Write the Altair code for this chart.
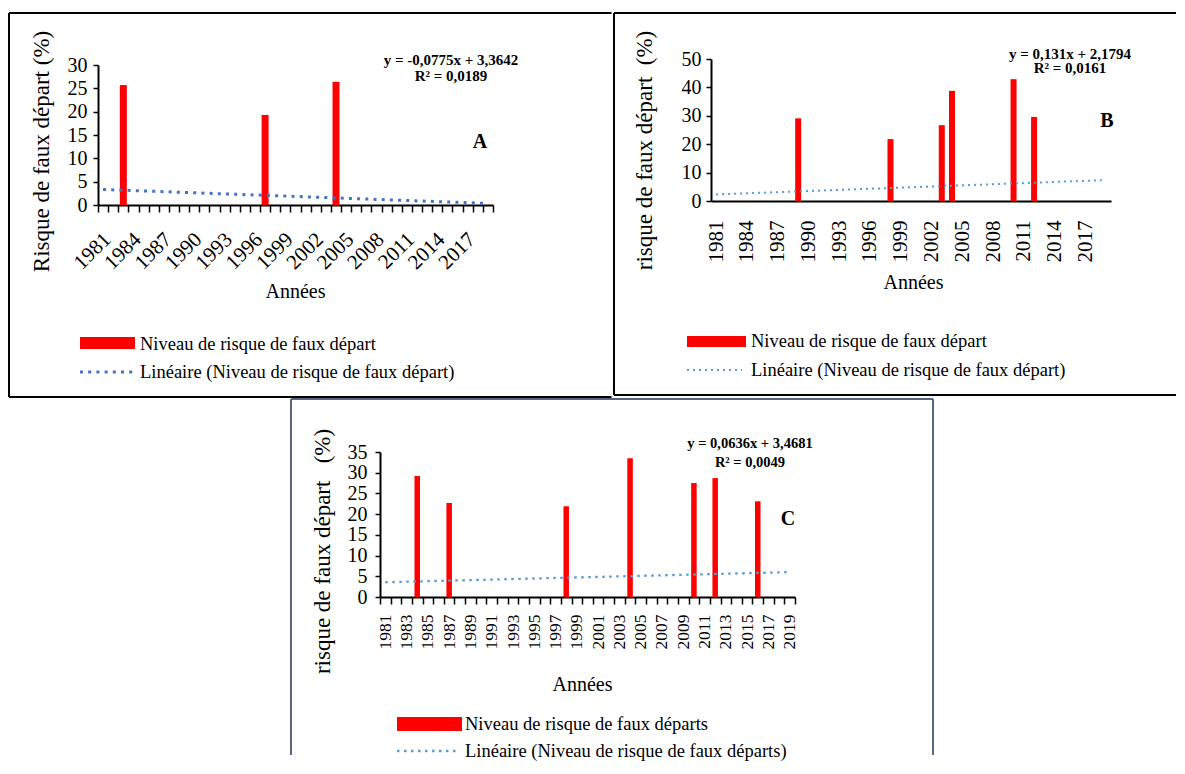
import json
import altair as alt
import pandas as pd

FONT = "Liberation Serif"

YEARS = [1981, 1982, 1983, 1984, 1985, 1986, 1987, 1988, 1989, 1990,
         1991, 1992, 1993, 1994, 1995, 1996, 1997, 1998, 1999, 2000,
         2001, 2002, 2003, 2004, 2005, 2006, 2007, 2008, 2009, 2010,
         2011, 2012, 2013, 2014, 2015, 2016, 2017, 2018, 2019]

A_YEARS = [1983, 1997, 2004]
A_VALUES = [25.7, 19.3, 26.4]
B_YEARS = [1989, 1998, 2003, 2004, 2010, 2012]
B_VALUES = [29.1, 21.8, 26.7, 38.8, 42.9, 29.6]
C_YEARS = [1984, 1987, 1998, 2004, 2010, 2012, 2016]
C_VALUES = [29.2, 22.7, 21.9, 33.5, 27.5, 28.7, 23.1]

A_TICK_LABELS = [1981, 1984, 1987, 1990, 1993, 1996, 1999, 2002, 2005, 2008, 2011, 2014, 2017]
B_TICK_LABELS = [1981, 1984, 1987, 1990, 1993, 1996, 1999, 2002, 2005, 2008, 2011, 2014, 2017]
C_TICK_LABELS = [1981, 1983, 1985, 1987, 1989, 1991, 1993, 1995, 1997, 1999,
                 2001, 2003, 2005, 2007, 2009, 2011, 2013, 2015, 2017, 2019]

A_Y_TICKS = [0, 5, 10, 15, 20, 25, 30]
B_Y_TICKS = [0, 10, 20, 30, 40, 50]
C_Y_TICKS = [0, 5, 10, 15, 20, 25, 30, 35]

A_EQ = ["y = -0,0775x + 3,3642", "R² = 0,0189"]
B_EQ = ["y = 0,131x + 2,1794", "R² = 0,0161"]
C_EQ = ["y = 0,0636x + 3,4681", "R² = 0,0049"]

ONE = pd.DataFrame({"k": [0]})
NOVIEW = alt.ViewBackground(stroke="transparent", strokeWidth=0, fill="transparent")


def full_table(years, values):
    lookup = dict(zip(years, values))
    return pd.DataFrame({"year": YEARS, "value": [lookup.get(y, 0.0) for y in YEARS]})


def hrule(x1, x2, y, color="black", width=2.0):
    return alt.Chart(ONE).mark_rule(color=color, strokeWidth=width).encode(
        x=alt.value(x1), x2=alt.value(x2), y=alt.value(y))


def vrule(x, y1, y2, color="black", width=2.0):
    return alt.Chart(ONE).mark_rule(color=color, strokeWidth=width).encode(
        x=alt.value(x), y=alt.value(y1), y2=alt.value(y2))


def dotted(x1, x2, y, color, dash, width):
    return alt.Chart(ONE).mark_rule(color=color, strokeWidth=width, strokeDash=dash).encode(
        x=alt.value(x1), x2=alt.value(x2), y=alt.value(y))


def label(x, y, s, size, weight="normal", align="left"):
    return alt.Chart(ONE).mark_text(font=FONT, fontSize=size, fontWeight=weight, align=align,
                                    baseline="middle", color="black").encode(
        x=alt.value(x), y=alt.value(y), text=alt.value(s))


def box(x1, x2, y1, y2, color):
    return alt.Chart(ONE).mark_rect(color=color).encode(
        x=alt.value(x1), x2=alt.value(x2), y=alt.value(y1), y2=alt.value(y2))


def spacer(w, h):
    return alt.Chart(ONE).mark_text(fontSize=1, opacity=0).encode(
        x=alt.value(0), y=alt.value(0), text=alt.value("")
    ).properties(width=w, height=h, view=NOVIEW)


def panel(p):
    df = full_table(p["years"], p["values"])
    expr = "indexof(" + json.dumps(p["tick_labels"]) + ", datum.value) >= 0 ? datum.label : ''"
    xaxis = alt.Axis(
        title="Années", titleFont=FONT, titleFontSize=20, titleFontWeight="normal",
        titleColor="black", titleX=p["xt"][0], titleY=p["xt"][1], titleBaseline="middle",
        titleAlign="center", titleAngle=0,
        labelExpr=expr, labelAngle=p["langle"], labelAlign="right", labelBaseline="middle",
        labelFont=FONT, labelFontSize=p["lsize"], labelColor="black",
        labelPadding=p["lpad"], labelOffset=p["loff"], labelOverlap=False,
        ticks=p["ticks"], tickSize=p["tsize"], tickBand="extent", tickColor="black", tickWidth=1.5,
        domainColor="black", domainWidth=2, grid=False)
    yaxis = alt.Axis(
        title=p["ytitle"], titleFont=FONT, titleFontSize=p["ytsize"], titleFontWeight="normal",
        titleColor="black", titleX=p["yt"][0], titleY=p["yt"][1], titleAngle=270,
        titleAlign="center", titleBaseline="middle",
        values=p["yticks"], labelFont=FONT, labelFontSize=20, labelColor="black",
        labelOverlap=False, labelSeparation=0, labelPadding=p["ylpad"],
        tickSize=5, tickColor="black", tickWidth=1.5,
        domainColor="black", domainWidth=2, grid=False)
    xs = alt.Scale(domain=YEARS, paddingInner=0, paddingOuter=0)
    ys = alt.Scale(domain=[0, p["ymax"]], nice=False)
    bars = alt.Chart(df).transform_filter("datum.value > 0").mark_bar(
        color="#FF0000", size=p["bar"]).encode(
        x=alt.X("year:O", scale=xs, axis=xaxis),
        y=alt.Y("value:Q", scale=ys, axis=yaxis))
    trend = alt.Chart(df).transform_regression("year", "value").mark_line(
        color=p["tcolor"], strokeDash=p["dash"], strokeWidth=p["dw"]).encode(
        x=alt.X("year:O", scale=xs, axis=xaxis),
        y=alt.Y("value:Q", scale=ys, axis=yaxis))
    layers = [bars, trend]
    layers += p["border"]
    ex, ey1, ey2 = p["eq"]
    layers.append(label(ex, ey1, p["eqtext"][0], p["eqsize"], "bold", "center"))
    layers.append(label(ex, ey2, p["eqtext"][1], p["eqsize"], "bold", "center"))
    lx, ly = p["letter"]
    layers.append(label(lx, ly, p["lettertext"], 20, "bold", "center"))
    rx1, rx2, ry1, ry2, tx, t1y, dx2, dy = p["legend"]
    layers.append(box(rx1, rx2, ry1, ry2, "#FF0000"))
    layers.append(label(tx, t1y, p["leg1"], 18.5))
    layers.append(dotted(rx1, dx2, dy, p["tcolor"], p["dash"], p["dw"]))
    layers.append(label(tx, dy, p["leg2"], 18.5))
    return alt.layer(*layers).properties(width=p["W"], height=p["H"], view=NOVIEW)


A = dict(
    years=A_YEARS, values=A_VALUES, tick_labels=A_TICK_LABELS, yticks=A_Y_TICKS, ymax=30,
    W=395, H=140, bar=7, tcolor="#4472C4", dash=[3, 5.2], dw=3,
    xt=[197, 86], langle=315, lsize=21, lpad=24, loff=4, ticks=True, tsize=7,
    ytitle="Risque de faux départ (%)", ytsize=23, yt=[-57, 86], ylpad=6,
    eq=(353, -5, 11), eqtext=A_EQ, eqsize=15, letter=(382, 77), lettertext="A",
    legend=(-18, 37, 272, 284, 42, 279, 35, 307),
    leg1="Niveau de risque de faux départ",
    leg2="Linéaire (Niveau de risque de faux départ)",
    border=[hrule(-89, 513.5, -52), hrule(-89, 513.5, 332), vrule(-89, -52, 332)],
)

B = dict(
    years=B_YEARS, values=B_VALUES, tick_labels=B_TICK_LABELS, yticks=B_Y_TICKS, ymax=50,
    W=400, H=142, bar=6, tcolor="#5B9BD5", dash=[2, 4], dw=2,
    xt=[202, 81], langle=270, lsize=21, lpad=19, loff=0, ticks=False, tsize=0,
    ytitle="risque de faux départ \u00a0(%)", ytsize=23, yt=[-67, 91], ylpad=5,
    eq=(359, -5, 9), eqtext=B_EQ, eqsize=15, letter=(396, 62), lettertext="B",
    legend=(-24, 35, 277, 288, 40, 282, 31, 311),
    leg1="Niveau de risque de faux départ",
    leg2="Linéaire (Niveau de risque de faux départ)",
    border=[hrule(-97, 465, -46), hrule(-97, 465, 336), vrule(-97, -46, 336)],
)

SLATE = "#56677F"
C = dict(
    years=C_YEARS, values=C_VALUES, tick_labels=C_TICK_LABELS, yticks=C_Y_TICKS, ymax=35,
    W=415, H=145, bar=5.5, tcolor="#5B9BD5", dash=[2.5, 4.5], dw=2.3,
    xt=[202, 87], langle=270, lsize=17.5, lpad=10, loff=0, ticks=True, tsize=7,
    ytitle="risque de faux départ \u00a0\u00a0(%)", ytsize=23, yt=[-58, 99], ylpad=8,
    eq=(370, -8, 11), eqtext=C_EQ, eqsize=14.5, letter=(408, 67), lettertext="C",
    legend=(17, 82, 265, 279, 85, 272, 77, 299),
    leg1="Niveau de risque de faux départs",
    leg2="Linéaire (Niveau de risque de faux départs)",
    border=[hrule(-89, 553, -53, SLATE), vrule(-89, -53, 303, SLATE), vrule(553, -53, 303, SLATE)],
)

wrapA = alt.vconcat(spacer(1, 1), panel(A), spacing=0)
wrapB = alt.vconcat(spacer(1, 1), panel(B), spacing=0)
top = alt.hconcat(wrapA, wrapB, spacing=0)
bottom = alt.hconcat(spacer(192, 1), panel(C), spacing=0)

chart = alt.vconcat(top, bottom, spacing=0).properties(
    padding={"left": 0, "top": 2, "right": 0, "bottom": 0}
).configure_view(stroke="transparent").configure(background="white")

chart.save("out.html", embed_options={"renderer": "svg", "actions": False})
